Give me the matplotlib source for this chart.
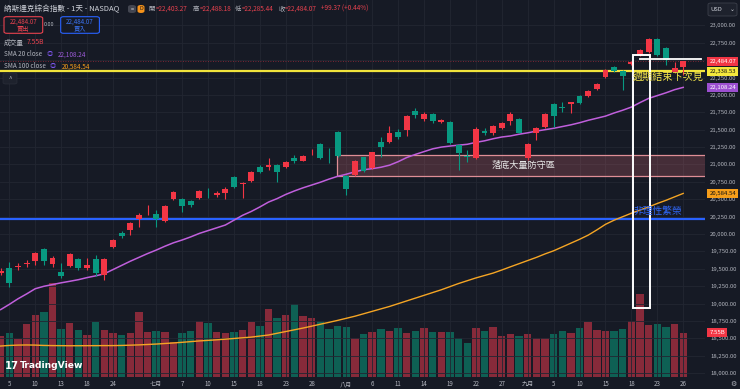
import matplotlib
matplotlib.use('Agg')
import matplotlib.pyplot as plt
import numpy as np
import pandas as pd
from matplotlib.patches import Rectangle, FancyBboxPatch

plt.rcParams['font.family'] = ['Noto Sans CJK TC', 'DejaVu Sans']

# ---------------- data ----------------
holidays = ['2025-06-19', '2025-07-04', '2025-09-01']
dates = [d for d in pd.bdate_range('2025-06-04', '2025-09-26')
         if d.strftime('%Y-%m-%d') not in holidays]

opens = [19445, 19517, 19525, 19572, 19613, 19782, 19570, 19460, 19546, 19638,
         19517, 19638, 19412, 19810, 20020, 20059, 20217, 20355, 20289, 20188,
         20500, 20500, 20476, 20523, 20652, 20562, 20586, 20825, 20715, 20763,
         20968, 20960, 20993, 20968, 21098, 21055, 21190, 21295, 21155, 21471,
         20839, 20849, 21103, 20954, 21328, 21319, 21471, 21496, 21773, 21650,
         21721, 21615, 21615, 21280, 21118, 21089, 21486, 21448, 21529, 21625,
         21650, 21089, 21448, 21535, 21869, 21820, 21869, 21989, 21984, 22080,
         22253, 22405, 22348, 22444, 22573, 22617, 22799, 22670, 22333, 22403.27]
highs = [19509, 19603, 19580, 19628, 19747, 19796, 19685, 19580, 19735, 19655,
         19652, 19700, 19652, 19930, 20045, 20178, 20307, 20418, 20346, 20418,
         20625, 20514, 20490, 20633, 20658, 20625, 20681, 20835, 20745, 20905,
         20990, 21089, 21007, 21050, 21137, 21137, 21218, 21305, 21233, 21485,
         20850, 21065, 21112, 21185, 21400, 21553, 21510, 21711, 21807, 21760,
         21735, 21650, 21625, 21290, 21208, 21540, 21520, 21568, 21615, 21759,
         21665, 21305, 21543, 21735, 21888, 21902, 21902, 22005, 22070, 22175,
         22368, 22415, 22358, 22490, 22660, 22815, 22815, 22684, 22477, 22488.18]
lows = [19412, 19244, 19484, 19532, 19556, 19556, 19532, 19365, 19532, 19485,
        19484, 19398, 19340, 19800, 19940, 19987, 20106, 20274, 20106, 20170,
        20490, 20322, 20390, 20500, 20514, 20530, 20500, 20660, 20514, 20750,
        20880, 20921, 20753, 20950, 21017, 21045, 21137, 21085, 21026, 21110,
        20562, 20835, 20895, 20940, 21112, 21305, 21370, 21414, 21664, 21620,
        21600, 21600, 21300, 20921, 21040, 21075, 21420, 21420, 21515, 21567,
        21448, 21065, 21352, 21520, 21543, 21759, 21735, 21870, 21975, 22065,
        22240, 22333, 22070, 22430, 22560, 22605, 22560, 22430, 22310, 22285.44]
closes = [19474, 19293, 19535, 19588, 19724, 19613, 19661, 19398, 19710, 19509,
          19556, 19437, 19638, 19915, 19973, 20164, 20274, 20365, 20213, 20404,
          20609, 20404, 20418, 20619, 20642, 20595, 20644, 20672, 20739, 20897,
          20897, 20988, 20897, 21032, 21050, 21122, 21198, 21098, 21148, 21126,
          20644, 21055, 20911, 21175, 21247, 21457, 21391, 21697, 21711, 21726,
          21625, 21640, 21313, 21170, 21105, 21506, 21457, 21553, 21601, 21721,
          21457, 21290, 21520, 21721, 21697, 21812, 21894, 21888, 22056, 22157,
          22358, 22348, 22276, 22477, 22645, 22799, 22573, 22502, 22382, 22484.07]
volume_b = [6.98, 7.55, 6.40, 9.03, 10.63, 11.03, 16.12, 8.12, 9.15, 8.00,
            7.15, 9.38, 8.00, 7.55, 7.15, 7.55, 11.15, 7.60, 7.78, 7.60,
            5.95, 7.55, 7.89, 9.49, 9.15, 7.60, 7.55, 7.72, 8.00, 9.38,
            8.69, 11.55, 10.06, 10.52, 12.46, 10.41, 10.06, 9.49, 8.18, 8.69,
            8.58, 6.63, 7.32, 7.72, 8.18, 7.89, 8.40, 7.55, 7.89, 8.40,
            7.60, 7.60, 7.72, 6.63, 5.83, 8.35, 7.83, 8.52, 7.03, 7.26,
            7.03, 7.38, 6.69, 6.69, 7.38, 7.89, 7.43, 8.40, 9.38, 8.00,
            7.83, 7.83, 8.18, 9.55, 14.18, 8.86, 9.09, 8.52, 8.98, 7.55]
sma20 = [18915, 18990, 19070, 19140, 19215, 19250, 19275, 19300, 19322, 19345,
         19375, 19400, 19430, 19490, 19550, 19610, 19665, 19720, 19770, 19825,
         19875, 19915, 19960, 20010, 20050, 20090, 20130, 20200, 20270, 20325,
         20390, 20460, 20510, 20570, 20620, 20665, 20705, 20745, 20790, 20830,
         20860, 20895, 20925, 20940, 20960, 20990, 21040, 21100, 21145, 21185,
         21225, 21250, 21265, 21278, 21290, 21318, 21340, 21370, 21395, 21410,
         21435, 21455, 21480, 21500, 21520, 21545, 21570, 21600, 21635, 21665,
         21695, 21740, 21780, 21825, 21890, 21950, 21990, 22030, 22075, 22108.24]
sma100 = [18392, 18400, 18405, 18407, 18405, 18400, 18398, 18397, 18396, 18396,
          18397, 18397, 18398, 18398, 18400, 18404, 18408, 18414, 18420, 18428,
          18436, 18445, 18455, 18465, 18473, 18481, 18490, 18500, 18510, 18520,
          18535, 18550, 18575, 18600, 18625, 18650, 18677, 18705, 18732, 18760,
          18790, 18820, 18855, 18890, 18925, 18960, 19000, 19040, 19080, 19120,
          19160, 19200, 19245, 19290, 19330, 19370, 19405, 19440, 19484, 19530,
          19575, 19620, 19665, 19715, 19760, 19815, 19870, 19925, 19985, 20060,
          20140, 20200, 20250, 20300, 20345, 20390, 20440, 20485, 20535, 20584.54]

tick_dates = ['2025-06-05', '2025-06-10', '2025-06-13', '2025-06-18', '2025-06-24',
              '2025-07-01', '2025-07-07', '2025-07-10', '2025-07-15', '2025-07-18',
              '2025-07-23', '2025-07-28', '2025-08-01', '2025-08-06', '2025-08-11',
              '2025-08-14', '2025-08-19', '2025-08-22', '2025-08-27', '2025-09-02',
              '2025-09-05', '2025-09-10', '2025-09-15', '2025-09-18', '2025-09-23',
              '2025-09-26']
tick_labels = ['5', '10', '13', '18', '24', '七月', '7', '10', '15', '18', '23', '28',
               '八月', '6', '11', '14', '19', '22', '27', '九月', '5', '10', '15', '18',
               '23', '26']
price_ticks = list(range(18000, 23001, 250))

last_price = 22484.07
resistance = 22338.53        # yellow line
irrational = 20213           # blue line
zone_low, zone_high = 20839, 21136
zone_start = '2025-07-31'
box_dates = ('2025-09-18', '2025-09-22')
box_low, box_high = 18934, 22573
white_level = 22511

# ---------------- style ----------------
BG = '#161a25'
GRID = '#222632'
RED = '#f23645'
GREEN = '#089981'
VRED = '#872a3a'
VGREEN = '#0e6054'
TXT = '#b2b5be'
W, H = 740, 389

fig = plt.figure(figsize=(W / 100, H / 100), dpi=100, facecolor=BG)
axpos = [0, (H - 376.7) / H, 705 / W, 376.7 / H]
axv = fig.add_axes(axpos, facecolor=BG)
ax = fig.add_axes(axpos, sharex=axv)
ax.patch.set_visible(False)

x = np.arange(len(dates))
o = np.array(opens); c = np.array(closes)
hi = np.array(highs); lo = np.array(lows)
up = c >= o
ccol = np.where(up, RED, GREEN)
vcol = np.where(up, VRED, VGREEN)
date_str = [d.strftime('%Y-%m-%d') for d in dates]
pos = {s: i for i, s in enumerate(date_str)}

# volume
axv.bar(x, volume_b, width=0.86, color=vcol, zorder=2)
axv.set_ylim(0, 376.7 / 5.83)
axv.set_yticks([])
for s in axv.spines.values():
    s.set_visible(False)
axv.tick_params(axis='x', length=0, labelbottom=False)

# grid
ax.set_axisbelow(True)
ax.grid(True, color=GRID, lw=0.6)

# zone
zx = pos[zone_start] - 0.05
ax.add_patch(Rectangle((zx, zone_low), 90, zone_high - zone_low,
                       facecolor=(0.93, 0.45, 0.50, 0.22), edgecolor='#df8e96',
                       lw=0.9, zorder=1))
ax.text(60.5, (zone_low + zone_high) / 2, '落底大量防守區', color='#e6e6e6',
        fontsize=6.6, ha='center', va='center', zorder=6)

# SMAs
ax.plot(x, sma20, color='#c05fdc', lw=1.1, zorder=2.5)
ax.plot(x, sma100, color='#f5a524', lw=1.0, zorder=2.5)

# lines
ax.axhline(irrational, color='#2962ff', lw=1.6, zorder=2)
ax.axhline(resistance, color='#f2e43c', lw=1.6, zorder=2)
ax.axhline(last_price, color=RED, lw=0.6, ls=(0, (1, 2)), alpha=0.6, zorder=2)

# candles
ax.vlines(x, lo, hi, colors=ccol, lw=0.8, zorder=3)
body_bottom = np.minimum(o, c)
body_h = np.maximum(np.abs(c - o), 8)
ax.bar(x, body_h, bottom=body_bottom, width=0.68, color=ccol, zorder=4)

# white box & line
bx0 = pos[box_dates[0]] + 0.15
bx1 = pos[box_dates[1]] + 0.15
ax.add_patch(Rectangle((bx0, box_low), bx1 - bx0, box_high - box_low,
                       fill=False, edgecolor='white', lw=1.4, zorder=5))
ax.plot([pos[box_dates[0]] + 1.0, 81.1], [white_level, white_level],
        color='white', lw=1.3, zorder=5, clip_on=False)
ax.text(bx0 + 0.05, 22261, '週期結束下次見', color='#f2e44a', fontsize=7.3,
        ha='left', va='center', zorder=6, clip_on=False)
ax.text(bx0 + 0.1, 20336, '非理性繁榮', color='#2f66f5', fontsize=7.0,
        ha='left', va='center', zorder=6)

# axes scales
ax.set_xlim((0 - 0.66) / 8.64, (705 - 0.66) / 8.64)
ax.set_ylim(17951, 23363.6)
ax.yaxis.tick_right()
ax.set_yticks(price_ticks)
ax.set_yticklabels([f'{p:,.2f}' for p in price_ticks])
ax.set_xticks([pos[d] for d in tick_dates])
ax.set_xticklabels(tick_labels)
ax.tick_params(axis='y', length=0, pad=3.6, labelsize=4.3, labelcolor=TXT)
ax.tick_params(axis='x', length=0, pad=2.6, labelsize=4.4, labelcolor=TXT)
for s in ax.spines.values():
    s.set_visible(False)

# right axis colored labels
def plabel(val, text, fc, tc, trans=None):
    ax.annotate(text, xy=(1, val),
                xycoords=trans if trans is not None else ax.get_yaxis_transform(),
                xytext=(3.2, 0), textcoords='offset points', ha='left', va='center',
                fontsize=4.3, color=tc, zorder=10, annotation_clip=False,
                bbox=dict(boxstyle='square,pad=0.35', fc=fc, ec='none'))

plabel(last_price, f'{last_price:,.2f}', RED, 'white')
plabel(resistance, f'{resistance:,.2f}', '#f5e83c', '#111111')
plabel(sma20[-1], f'{sma20[-1]:,.2f}', '#9c4fd0', 'white')
plabel(sma100[-1], f'{sma100[-1]:,.2f}', '#f59d1a', '#111111')
plabel(volume_b[-1], f'{volume_b[-1]:.2f}B', RED, 'white', axv.get_yaxis_transform())

# ---------------- header / overlays ----------------
def ft(xp, yp, s, **kw):
    fig.text(xp / W, 1 - yp / H, s, **kw)

ft(4, 9, '納斯達克綜合指數 - 1天 - NASDAQ', color='#d1d4dc', fontsize=5.5, va='center')
fig.patches.append(FancyBboxPatch((128 / W, 1 - 13 / H), 8 / W, 8 / H,
                   boxstyle='round,pad=0,rounding_size=0.005', fc='#434651', ec='none',
                   transform=fig.transFigure, figure=fig))
ft(132, 9, '=', color='white', fontsize=4.0, va='center', ha='center')
fig.patches.append(FancyBboxPatch((137.5 / W, 1 - 13 / H), 7 / W, 8 / H,
                   boxstyle='round,pad=0,rounding_size=0.005', fc='#f7931a', ec='none',
                   transform=fig.transFigure, figure=fig))
ft(141, 9, 'D', color='#1a1a1a', fontsize=4.0, va='center', ha='center')
VALRED = '#e8424f'
for lx, lab, vx, val in [(148.7, '開', 155.5, '=22,403.27'), (192.7, '高', 199.5, '=22,488.18'),
                         (235, '低', 241.8, '=22,285.44'), (278.3, '收', 285.2, '=22,484.07')]:
    ft(lx, 9, lab, color=TXT, fontsize=4.6, va='center')
    ft(vx, 9, val, color=VALRED, fontsize=4.6, va='center')
ft(320.7, 9, '+99.37 (+0.44%)', color=VALRED, fontsize=4.6, va='center')

# buy / sell boxes
fig.patches.append(FancyBboxPatch((4 / W, 1 - 33.3 / H), 38.7 / W, 16.6 / H,
                   boxstyle='round,pad=0,rounding_size=0.004', fc=BG, ec='#e8424f', lw=0.8,
                   transform=fig.transFigure, figure=fig))
ft(23.3, 21.3, '22,484.07', color='#e8424f', fontsize=4.5, va='center', ha='center')
ft(23.3, 28.6, '賣出', color='#e8424f', fontsize=4.5, va='center', ha='center')
ft(49, 25, '0.00', color=TXT, fontsize=4.0, va='center', ha='center')
fig.patches.append(FancyBboxPatch((60.7 / W, 1 - 33.3 / H), 38.7 / W, 16.6 / H,
                   boxstyle='round,pad=0,rounding_size=0.004', fc=BG, ec='#2962ff', lw=0.8,
                   transform=fig.transFigure, figure=fig))
ft(80, 21.3, '22,484.07', color='#3b74f5', fontsize=4.5, va='center', ha='center')
ft(80, 28.6, '買入', color='#3b74f5', fontsize=4.5, va='center', ha='center')

ft(4, 42.5, '成交量', color=TXT, fontsize=4.8, va='center')
ft(26.7, 42.5, '7.55B', color='#e8424f', fontsize=4.8, va='center')
ft(4, 54.3, 'SMA 20 close', color=TXT, fontsize=4.6, va='center')
ft(50, 54.3, '◎', color='#7b54e8', fontsize=4.6, va='center', ha='center')
ft(57.3, 54.3, '22,108.24', color='#9c5ad8', fontsize=4.6, va='center')
ft(4, 66.3, 'SMA 100 close', color=TXT, fontsize=4.6, va='center')
ft(53.3, 66.3, '◎', color='#7b54e8', fontsize=4.6, va='center', ha='center')
ft(61.7, 66.3, '20,584.54', color='#f59d1a', fontsize=4.6, va='center')

# collapse button
fig.patches.append(FancyBboxPatch((3 / W, 1 - 84 / H), 14 / W, 11 / H,
                   boxstyle='round,pad=0,rounding_size=0.004', fc='#1e222d', ec='#2a2e39', lw=0.5,
                   transform=fig.transFigure, figure=fig))
ft(10, 78.8, '^', color=TXT, fontsize=4.5, va='center', ha='center')

# USD box
fig.patches.append(FancyBboxPatch((708 / W, 1 - 16 / H), 29 / W, 13 / H,
                   boxstyle='round,pad=0,rounding_size=0.004', fc='#1e222d', ec='#434651', lw=0.5,
                   transform=fig.transFigure, figure=fig))
ft(710.5, 9.5, 'USD', color='#d1d4dc', fontsize=4.2, va='center')
ft(732.5, 9.5, '⌄', color='#d1d4dc', fontsize=4.2, va='center', ha='center', family='DejaVu Sans')

# gear
ft(733, 384, '⚙', color=TXT, fontsize=5.0, va='center', ha='center', family='DejaVu Sans')

# TradingView watermark
ft(4.5, 366, '17', color='white', fontsize=7.2, fontweight='heavy', va='center', family='DejaVu Sans')
ft(20, 366, 'TradingView', color='white', fontsize=6.6, fontweight='bold', va='center', family='DejaVu Sans')

fig.savefig('out.png', dpi=100, facecolor=BG)
